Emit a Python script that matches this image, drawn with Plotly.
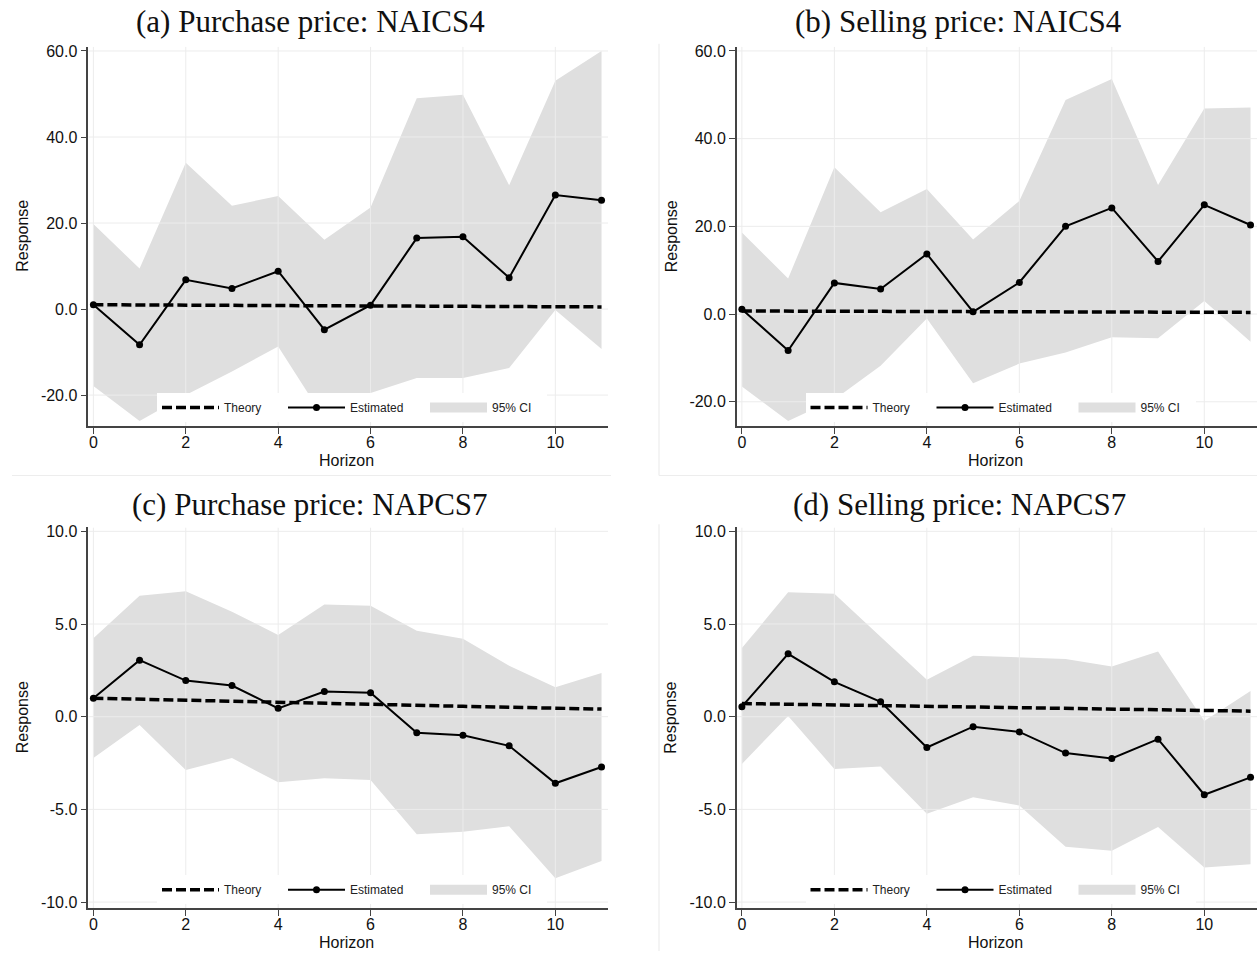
import plotly.graph_objects as go

W, H = 1257, 954

horizon = list(range(12))

# (a) Purchase price: NAICS4
theory_a = [1.00, 0.95, 0.90, 0.86, 0.81, 0.77, 0.72, 0.68, 0.64, 0.60, 0.56, 0.50]
est_a = [1.0, -8.3, 6.8, 4.8, 8.8, -4.8, 0.9, 16.5, 16.8, 7.3, 26.5, 25.3]
upper_a = [19.8, 9.4, 34.0, 24.0, 26.3, 16.1, 23.6, 49.0, 49.8, 28.8, 53.1, 60.0]
lower_a = [-17.9, -26.0, -20.0, -14.5, -8.7, -25.5, -19.5, -16.0, -16.0, -13.7, -0.2, -9.3]

# (b) Selling price: NAICS4
theory_b = [0.70, 0.67, 0.64, 0.61, 0.58, 0.55, 0.52, 0.49, 0.46, 0.43, 0.40, 0.38]
est_b = [1.1, -8.3, 7.1, 5.7, 13.7, 0.5, 7.2, 20.0, 24.2, 12.0, 24.9, 20.3]
upper_b = [18.6, 8.1, 33.5, 23.2, 28.5, 17.0, 25.8, 48.8, 53.6, 29.4, 46.9, 47.1]
lower_b = [-16.5, -24.4, -19.5, -11.8, -1.0, -15.8, -11.3, -8.75, -5.3, -5.5, 3.0, -6.3]

# (c) Purchase price: NAPCS7
theory_c = [1.00, 0.94, 0.88, 0.82, 0.77, 0.71, 0.66, 0.61, 0.56, 0.51, 0.46, 0.41]
est_c = [1.0, 3.05, 1.95, 1.68, 0.45, 1.36, 1.29, -0.86, -1.0, -1.57, -3.59, -2.71]
upper_c = [4.23, 6.52, 6.77, 5.66, 4.41, 6.05, 5.98, 4.64, 4.21, 2.75, 1.59, 2.36]
lower_c = [-2.23, -0.45, -2.88, -2.23, -3.54, -3.32, -3.41, -6.34, -6.21, -5.91, -8.71, -7.79]

# (d) Selling price: NAPCS7
theory_d = [0.71, 0.67, 0.63, 0.59, 0.55, 0.51, 0.48, 0.44, 0.41, 0.38, 0.34, 0.30]
est_d = [0.54, 3.39, 1.88, 0.80, -1.66, -0.54, -0.82, -1.96, -2.25, -1.21, -4.21, -3.27]
upper_d = [3.70, 6.71, 6.63, 4.32, 2.00, 3.29, 3.21, 3.11, 2.71, 3.52, -0.23, 1.38]
lower_d = [-2.55, 0.04, -2.82, -2.68, -5.23, -4.34, -4.79, -7.02, -7.23, -5.95, -8.13, -7.96]

titles = ["(a) Purchase price: NAICS4", "(b) Selling price: NAICS4",
          "(c) Purchase price: NAPCS7", "(d) Selling price: NAPCS7"]
y_ticks_top = [-20, 0, 20, 40, 60]
y_ticks_bottom = [-10, -5, 0, 5, 10]
x_ticks = [0, 2, 4, 6, 8, 10]
X_RANGE = [-0.11, 11.14]

# panel boxes in pixels: left, right, top, bottom
panels = [
    dict(box=(88.3, 608.0, 43.0, 425.0), yr=[-27.16, 61.0], yt=y_ticks_top,
         th=theory_a, est=est_a, up=upper_a, lo=lower_a, tx=310, ty=18),
    dict(box=(736.8, 1257.0, 43.0, 425.0), yr=[-25.5, 60.97], yt=y_ticks_top,
         th=theory_b, est=est_b, up=upper_b, lo=lower_b, tx=958.5, ty=18),
    dict(box=(88.3, 608.0, 527.3, 910.7), yr=[-10.32, 10.21], yt=y_ticks_bottom,
         th=theory_c, est=est_c, up=upper_c, lo=lower_c, tx=310, ty=504),
    dict(box=(736.8, 1257.0, 527.3, 910.7), yr=[-10.32, 10.21], yt=y_ticks_bottom,
         th=theory_d, est=est_d, up=upper_d, lo=lower_d, tx=959.5, ty=504),
]

SANS = "Liberation Sans, Arial, sans-serif"
SERIF = "Liberation Serif, Times New Roman, serif"
FILL = "#dfdfdf"
GRID = "#ececec"
AXIS = "#444444"

fig = go.Figure()
layout = dict(
    width=W, height=H, margin=dict(l=0, r=0, t=0, b=0),
    paper_bgcolor="white", plot_bgcolor="white", showlegend=True,
)
annotations = []
shapes = []

for i, p in enumerate(panels):
    n = i + 1
    sfx = "" if n == 1 else str(n)
    xa, ya = "x" + sfx, "y" + sfx
    leg = "legend" + sfx
    L, R, T, B = p["box"]
    y0, y1 = p["yr"]

    # confidence band
    fig.add_trace(go.Scatter(
        x=horizon + horizon[::-1], y=p["up"] + p["lo"][::-1],
        xaxis=xa, yaxis=ya, mode="lines", fill="toself", fillcolor=FILL,
        line=dict(width=0, color=FILL), name="95% CI", legend=leg,
        legendgroup="ci" + sfx, showlegend=False, hoverinfo="skip"))

    # grid lines at the tick values, drawn over the band
    gx, gy = [], []
    for t in x_ticks:
        gx += [t, t, None]
        gy += [y0, y1, None]
    for t in p["yt"]:
        gx += [X_RANGE[0], X_RANGE[1], None]
        gy += [t, t, None]
    fig.add_trace(go.Scatter(
        x=gx, y=gy, xaxis=xa, yaxis=ya, mode="lines",
        line=dict(color=GRID, width=1), showlegend=False, hoverinfo="skip"))

    fig.add_trace(go.Scatter(
        x=horizon, y=p["th"], xaxis=xa, yaxis=ya, mode="lines",
        line=dict(color="black", width=3.5, dash="10px,4px"),
        name="Theory", legend=leg, legendrank=1, legendwidth=54))
    fig.add_trace(go.Scatter(
        x=horizon, y=p["est"], xaxis=xa, yaxis=ya, mode="lines+markers",
        line=dict(color="black", width=2), marker=dict(color="black", size=7),
        name="Estimated", legend=leg, legendrank=2, legendwidth=70))
    # legend key for the band: a thick swatch in the band colour
    fig.add_trace(go.Scatter(
        x=[None], y=[None], xaxis=xa, yaxis=ya, mode="lines",
        line=dict(color=FILL, width=15), name="95% CI", legend=leg,
        legendgroup="ci" + sfx, legendrank=3, legendwidth=50,
        hoverinfo="skip"))

    layout["xaxis" + sfx] = dict(
        domain=[L / W, R / W], range=X_RANGE, anchor=ya,
        tickvals=x_ticks, ticks="outside", ticklen=6, tickwidth=1.3,
        tickcolor=AXIS, showline=True, linecolor=AXIS, linewidth=1.5,
        showgrid=False, zeroline=False, ticklabelstandoff=-5,
        tickfont=dict(family=SANS, size=16, color="#111111"))
    layout["yaxis" + sfx] = dict(
        domain=[1 - B / H, 1 - T / H], range=p["yr"], anchor=xa,
        tickvals=p["yt"], ticktext=[f"{v:.1f}" for v in p["yt"]],
        ticks="outside", ticklen=6, tickwidth=1.3, tickcolor=AXIS,
        showline=True, linecolor=AXIS, linewidth=1.5,
        showgrid=False, zeroline=False,
        tickfont=dict(family=SANS, size=16, color="#111111"))

    layout[leg] = dict(
        x=(157 if L < 600 else 157 + 648.5) / W, y=1 - (B - 33) / H,
        xanchor="left", yanchor="top", orientation="h",
        bgcolor="white", borderwidth=0, itemwidth=57,
        font=dict(family=SANS, size=12, color="#222222"),
        traceorder="normal")

    annotations.append(dict(
        text=titles[i], x=p["tx"] / W, y=1 - p["ty"] / H, xref="paper",
        yref="paper", showarrow=False, xanchor="center", yanchor="middle",
        font=dict(family=SERIF, size=31, color="#111111")))
    annotations.append(dict(
        text="Response", x=(L - 65.8) / W, y=1 - (T + B) / 2 / H,
        xref="paper", yref="paper", showarrow=False, textangle=-90,
        xanchor="center", yanchor="middle",
        font=dict(family=SANS, size=16, color="#111111")))
    annotations.append(dict(
        text="Horizon", x=(L + 258.3) / W, y=1 - (B + 35) / H,
        xref="paper", yref="paper", showarrow=False,
        xanchor="center", yanchor="middle",
        font=dict(family=SANS, size=16, color="#111111")))

# faint outlines of the individual graph regions
BORDER = "#ededed"
for x0, y0, x1, y1 in [(12, 475, 611, 475), (659, 475, 1257, 475),
                       (659, 40, 659, 475), (659, 524, 659, 954)]:
    shapes.append(dict(type="line", xref="paper", yref="paper",
                       x0=x0 / W, x1=x1 / W, y0=1 - y0 / H, y1=1 - y1 / H,
                       line=dict(color=BORDER, width=1.2)))

layout["annotations"] = annotations
layout["shapes"] = shapes
fig.update_layout(**layout)
fig.write_html("out.html")
